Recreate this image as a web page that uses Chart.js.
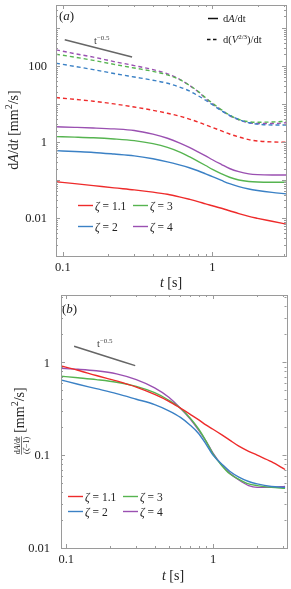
<!DOCTYPE html>
<html>
<head>
<meta charset="utf-8">
<script src="https://cdn.jsdelivr.net/npm/chart.js@4"></script>
<style>
  html, body { margin: 0; padding: 0; background: #fff; }
  canvas { position: absolute; left: 0; }
</style>
</head>
<body>
<canvas id="chartA" width="291" height="290" style="top:0"></canvas>
<canvas id="chartB" width="291" height="299" style="top:290px"></canvas>
<script>
// time samples [s]
const times = [0.09, 0.12, 0.16, 0.22, 0.3, 0.4, 0.5, 0.6, 0.7, 0.8, 0.9, 1.0, 1.15, 1.3, 1.5, 1.75, 2.0, 2.5, 3.1];
const zetaLabels = ['1.1', '2', '3', '4'];

// (a) dA/dt [mm^2/s]
const dA_z11 = [0.09, 0.08, 0.071, 0.062, 0.055, 0.048, 0.042, 0.036, 0.031, 0.027, 0.0235, 0.021, 0.018, 0.0155, 0.013, 0.011, 0.0098, 0.0082, 0.0069];
const dA_z2  = [0.59, 0.56, 0.53, 0.48, 0.43, 0.36, 0.30, 0.25, 0.21, 0.175, 0.145, 0.122, 0.097, 0.08, 0.067, 0.058, 0.053, 0.047, 0.043];
const dA_z3  = [1.38, 1.34, 1.29, 1.2, 1.08, 0.9, 0.72, 0.55, 0.41, 0.31, 0.24, 0.19, 0.145, 0.118, 0.1, 0.091, 0.088, 0.087, 0.087];
const dA_z4  = [2.5, 2.42, 2.33, 2.2, 2.0, 1.6, 1.25, 0.95, 0.72, 0.55, 0.43, 0.34, 0.255, 0.2, 0.165, 0.145, 0.138, 0.135, 0.135];

// (a) d(V^(2/3))/dt
const dV_z11 = [14.7, 13.2, 11.8, 10.0, 8.3, 6.8, 5.7, 4.8, 4.0, 3.35, 2.8, 2.4, 1.95, 1.62, 1.35, 1.15, 1.06, 1.0, 0.98];
const dV_z2  = [118, 97, 80, 63, 51, 42, 35, 28, 22, 16.5, 12.5, 9.5, 6.6, 5.0, 3.9, 3.2, 2.95, 2.8, 2.8];
const dV_z3  = [203, 170, 140, 110, 88, 72, 58, 44, 31, 21.5, 14.5, 10.5, 7.0, 5.1, 3.9, 3.4, 3.3, 3.35, 3.5];
const dV_z4  = [265, 210, 170, 130, 102, 80, 62, 45, 31, 21, 14, 10, 6.8, 4.9, 3.8, 3.2, 3.05, 3.05, 3.2];

// (b) dA/dt / (zeta-1)
const nA_z11 = [0.92, 0.82, 0.72, 0.63, 0.54, 0.45, 0.38, 0.32, 0.275, 0.24, 0.21, 0.19, 0.165, 0.145, 0.125, 0.11, 0.1, 0.085, 0.07];
const nA_z2  = [0.65, 0.58, 0.52, 0.46, 0.4, 0.35, 0.3, 0.255, 0.21, 0.17, 0.13, 0.1, 0.08, 0.067, 0.058, 0.052, 0.049, 0.046, 0.045];
const nA_z3  = [0.71, 0.68, 0.65, 0.61, 0.55, 0.47, 0.39, 0.32, 0.25, 0.19, 0.14, 0.103, 0.077, 0.063, 0.055, 0.049, 0.047, 0.045, 0.044];
const nA_z4  = [0.86, 0.84, 0.81, 0.75, 0.65, 0.53, 0.42, 0.32, 0.245, 0.185, 0.14, 0.105, 0.078, 0.064, 0.054, 0.047, 0.045, 0.045, 0.046];

// t^-0.5 guide segments
const guideA_t = [0.103, 0.29], guideA_v = [490, 172];
const guideB_t = [0.113, 0.295], guideB_v = [1.49, 0.92];

// tick labels
const xTickLabels = [0.1, 1];
const yTickLabelsA = [0.01, 1, 100];
const yTickLabelsB = [0.01, 0.1, 1];

const colors = ['#ee2b2b', '#3b81c5', '#56b450', '#9a50b1'];
const serif = '"Liberation Serif", "DejaVu Serif", serif';

function series(ts, vs, color, dashed, width) {
  return {
    data: ts.map((t, i) => ({ x: t, y: vs[i] })),
    borderColor: color,
    borderWidth: width || 1.4,
    borderDash: dashed ? [4, 3] : [],
    pointRadius: 0,
    cubicInterpolationMode: 'monotone',
    fill: false
  };
}

// draw mixed-style text: parts = [[text, style]], style '' | 'i' | 'sup'
function rich(ctx, parts, x, y, size, align) {
  const fontOf = p => (p[1].includes('i') ? 'italic ' : '') +
    (p[1].includes('sup') ? Math.round(size * 0.68) : size) + 'px ' + serif;
  let w = 0;
  parts.forEach(p => { ctx.font = fontOf(p); w += ctx.measureText(p[0]).width; });
  let cx = align === 'center' ? x - w / 2 : align === 'right' ? x - w : x;
  ctx.textAlign = 'left';
  ctx.textBaseline = 'alphabetic';
  parts.forEach(p => {
    ctx.font = fontOf(p);
    ctx.fillText(p[0], cx, p[1].includes('sup') ? y - size * 0.42 : y);
    cx += ctx.measureText(p[0]).width;
  });
  return w;
}

function frameAndTicks(chart, yLabels, yLabelRight, xLabelY) {
  const { ctx, chartArea: a, scales: { x, y } } = chart;
  ctx.save();
  ctx.strokeStyle = '#9a9a9a';
  ctx.lineWidth = 1;
  ctx.strokeRect(Math.round(a.left) + 0.5, Math.round(a.top) + 0.5,
    Math.round(a.right - a.left), Math.round(a.bottom - a.top));
  ctx.beginPath();
  for (let e = -4; e <= 4; e++) {
    for (let m = 1; m < 10; m++) {
      const v = m * Math.pow(10, e);
      const len = m === 1 ? 4 : 2;
      if (v > x.min && v < x.max) {
        const px = Math.round(x.getPixelForValue(v)) + 0.5;
        ctx.moveTo(px, a.bottom); ctx.lineTo(px, a.bottom - len);
        ctx.moveTo(px, a.top); ctx.lineTo(px, a.top + len);
      }
      if (v > y.min && v < y.max) {
        const py = Math.round(y.getPixelForValue(v)) + 0.5;
        ctx.moveTo(a.left, py); ctx.lineTo(a.left + len, py);
        ctx.moveTo(a.right, py); ctx.lineTo(a.right - len, py);
      }
    }
  }
  ctx.stroke();
  ctx.fillStyle = '#222';
  ctx.font = '12.5px ' + serif;
  ctx.textBaseline = 'middle';
  ctx.textAlign = 'center';
  xTickLabels.forEach(v => ctx.fillText(String(v), x.getPixelForValue(v), xLabelY));
  ctx.textAlign = 'right';
  yLabels.forEach(v => ctx.fillText(String(v), yLabelRight, y.getPixelForValue(v) + 1));
  ctx.restore();
}

function zetaLegend(ctx, x0, y0, dy, col2) {
  const order = [[0, 0, 0], [2, col2, 0], [1, 0, dy], [3, col2, dy]];
  order.forEach(([k, dx, dyy]) => {
    const lx = x0 + dx, ly = y0 + dyy;
    ctx.strokeStyle = colors[k];
    ctx.lineWidth = 1.4;
    ctx.setLineDash([]);
    ctx.beginPath(); ctx.moveTo(lx, ly); ctx.lineTo(lx + 15, ly); ctx.stroke();
    ctx.fillStyle = '#222';
    rich(ctx, [['ζ', 'i'], [' = ' + zetaLabels[k], '']], lx + 17, ly + 4, 11.5, 'left');
  });
}

function guideLabel(ctx, x, y) {
  ctx.fillStyle = '#444';
  rich(ctx, [['t', ''], ['−0.5', 'sup']], x, y, 10.5, 'left');
}

const decorA = {
  id: 'decorA',
  afterDatasetsDraw(chart) {
    const ctx = chart.ctx;
    frameAndTicks(chart, yTickLabelsA, 47, 268);
    ctx.save();
    ctx.fillStyle = '#222';
    rich(ctx, [['(', ''], ['a', 'i'], [')', '']], 59, 20, 13, 'left');
    guideLabel(ctx, 94, 44);
    // line-style legend
    ctx.strokeStyle = '#111';
    ctx.lineWidth = 1.5;
    ctx.beginPath(); ctx.moveTo(208, 18.5); ctx.lineTo(218, 18.5); ctx.stroke();
    ctx.setLineDash([3.5, 2.5]);
    ctx.beginPath(); ctx.moveTo(207, 39.5); ctx.lineTo(219, 39.5); ctx.stroke();
    ctx.setLineDash([]);
    ctx.fillStyle = '#222';
    rich(ctx, [['d', ''], ['A', 'i'], ['/dt', '']], 223, 22, 10.5, 'left');
    rich(ctx, [['d(', ''], ['V', 'i'], ['2/3', 'sup'], [')/dt', '']], 223, 43, 10.5, 'left');
    zetaLegend(ctx, 78, 205.5, 21, 55);
    // axis titles
    rich(ctx, [['t', 'i'], [' [s]', '']], 171, 287, 14, 'center');
    ctx.translate(18, 130);
    ctx.rotate(-Math.PI / 2);
    rich(ctx, [['d', ''], ['A', 'i'], ['/d', ''], ['t', 'i'], [' [mm', ''], ['2', 'sup'], ['/s]', '']], 0, 0, 14, 'center');
    ctx.restore();
  }
};

const decorB = {
  id: 'decorB',
  afterDatasetsDraw(chart) {
    const ctx = chart.ctx;
    frameAndTicks(chart, yTickLabelsB, 50, 270);
    ctx.save();
    ctx.fillStyle = '#222';
    rich(ctx, [['(', ''], ['b', 'i'], [')', '']], 62, 23, 13, 'left');
    guideLabel(ctx, 97, 57);
    zetaLegend(ctx, 68, 206.5, 15, 55);
    rich(ctx, [['t', 'i'], [' [s]', '']], 173, 290, 14, 'center');
    // rotated y title with fraction
    ctx.translate(22, 131);
    ctx.rotate(-Math.PI / 2);
    const fs = 8;
    const numParts = [['d', ''], ['A', 'i'], ['/d', ''], ['t', 'i']];
    const denParts = [['(', ''], ['ζ', 'i'], ['−1)', '']];
    const measure = parts => parts.reduce((s, p) => {
      ctx.font = (p[1] === 'i' ? 'italic ' : '') + fs + 'px ' + serif;
      return s + ctx.measureText(p[0]).width;
    }, 0);
    const wf = Math.max(measure(numParts), measure(denParts)) + 1;
    const titleParts = [[' [mm', ''], ['2', 'sup'], ['/s]', '']];
    let wb = 0;
    titleParts.forEach(p => {
      ctx.font = (p[1] === 'sup' ? Math.round(14 * 0.68) : 14) + 'px ' + serif;
      wb += ctx.measureText(p[0]).width;
    });
    const u0 = -(wf + wb) / 2;
    rich(ctx, numParts, u0 + wf / 2, -2.5, fs, 'center');
    rich(ctx, denParts, u0 + wf / 2, 6.5, fs, 'center');
    ctx.strokeStyle = '#222';
    ctx.lineWidth = 0.6;
    ctx.beginPath(); ctx.moveTo(u0, -0.5); ctx.lineTo(u0 + wf, -0.5); ctx.stroke();
    rich(ctx, titleParts, u0 + wf, 2, 14, 'left');
    ctx.restore();
  }
};

function makeChart(id, xr, yr, yWidth, xHeight, pad, datasets, decor) {
  return new Chart(document.getElementById(id), {
    type: 'line',
    data: { datasets },
    options: {
      responsive: false,
      animation: false,
      layout: { padding: pad },
      plugins: { legend: { display: false }, tooltip: { enabled: false } },
      scales: {
        x: {
          type: 'logarithmic', min: xr[0], max: xr[1],
          grid: { display: false }, border: { display: false },
          ticks: { display: false },
          afterFit: s => { s.height = xHeight; }
        },
        y: {
          type: 'logarithmic', min: yr[0], max: yr[1],
          grid: { display: false }, border: { display: false },
          ticks: { display: false },
          afterFit: s => { s.width = yWidth; }
        }
      }
    },
    plugins: [decor]
  });
}

const solidA = [dA_z11, dA_z2, dA_z3, dA_z4];
const dashA = [dV_z11, dV_z2, dV_z3, dV_z4];
const normB = [nA_z11, nA_z2, nA_z3, nA_z4];

makeChart('chartA', [0.09, 3.1], [0.001, 4000], 56, 34,
  { left: 0, right: 5, top: 5, bottom: 0 },
  [
    ...dashA.map((v, k) => series(times, v, colors[k], true)),
    ...solidA.map((v, k) => series(times, v, colors[k], false)),
    series(guideA_t, guideA_v, '#666', false, 1.5)
  ], decorA);

makeChart('chartB', [0.092, 3.17], [0.01, 5.3], 61, 41,
  { left: 0, right: 4.5, top: 5, bottom: 0 },
  [
    ...normB.map((v, k) => series(times, v, colors[k], false)),
    series(guideB_t, guideB_v, '#666', false, 1.5)
  ], decorB);
</script>
</body>
</html>
